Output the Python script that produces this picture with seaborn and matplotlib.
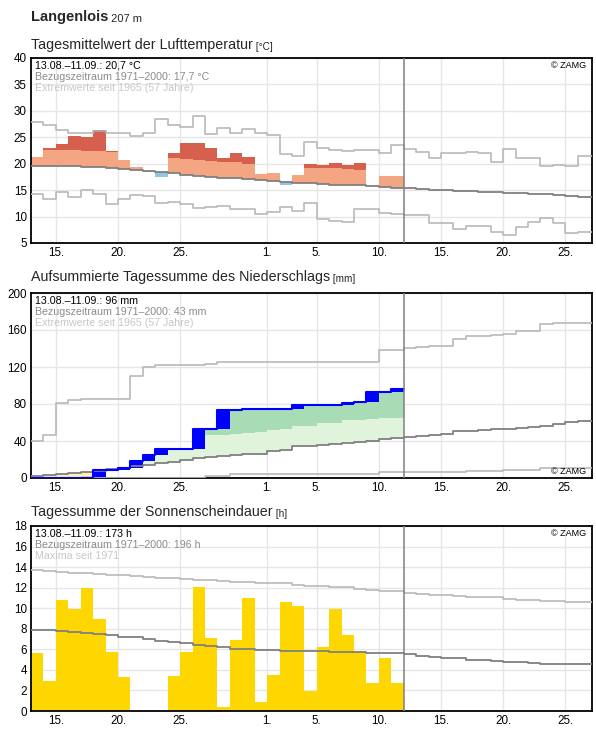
"""Klimamonitoring Langenlois: Temperatur, Niederschlag, Sonnenschein.
"""

import matplotlib
matplotlib.use("Agg")
import matplotlib.pyplot as plt
import numpy as np
import seaborn as sns

# day 0 = 13.08., observed values for 30 days, climate/extremes for 45 days
tick_pos = [2, 7, 12, 19, 23, 28, 33, 38, 43]
tick_labels = ["15.", "20.", "25.", "1.", "5.", "10.", "15.", "20.", "25."]

# --- Lufttemperatur (Tagesmittel, °C)
temp_obs = [21.3, 23.0, 23.75, 25.25, 25.06, 26.4, 22.4, 20.75, 19.44, 18.4,
            17.4, 22.06, 23.9, 23.9, 23.0, 21.1, 22.06, 21.3, 18.1, 18.3,
            15.9, 17.9, 20.0, 19.8, 20.2, 19.8, 20.2, 15.85, 17.6, 17.6]
temp_hi1 = [22.6, 22.6, 22.6, 22.6, 22.4, 22.4, 22.25, 22.1, 21.9, 21.7,
            21.5, 21.1, 20.9, 20.75, 20.6, 20.4, 20.25, 20.0, 20.0, 19.9,
            19.6, 19.4, 19.25, 19.25, 19.1, 19.06, 18.9, 18.8, 18.6, 18.5]
temp_hi2 = [26.2, 26.2, 26.1, 26.1, 26.0, 26.0, 25.9, 25.7, 25.5, 25.3,
            25.1, 24.8, 24.6, 24.4, 24.2, 24.0, 23.8, 23.6, 23.6, 23.5,
            23.2, 23.0, 22.9, 22.9, 22.7, 22.7, 22.5, 22.4, 22.2, 22.1]
temp_clim = [19.56, 19.56, 19.56, 19.56, 19.44, 19.44, 19.25, 19.06, 18.88, 18.69,
             18.5, 18.25, 17.88, 17.69, 17.5, 17.31, 17.25, 17.1, 17.0, 16.8,
             16.6, 16.4, 16.3, 16.2, 16.0, 16.0, 15.9, 15.8, 15.6, 15.45,
             15.4, 15.3, 15.1, 15.05, 14.9, 14.8, 14.65, 14.6, 14.5, 14.4,
             14.3, 14.2, 14.1, 13.95, 13.65]
temp_max = [27.8, 27.4, 26.3, 25.75, 25.75, 26.1, 25.75, 25.75, 25.2, 25.9,
            28.4, 27.25, 26.9, 29.1, 25.6, 26.7, 25.9, 26.5, 25.75, 25.4,
            21.9, 21.5, 24.2, 22.9, 22.6, 22.4, 22.6, 22.6, 22.0, 23.5,
            22.8, 22.2, 21.1, 22.1, 22.1, 22.25, 22.1, 20.4, 22.7, 21.1,
            21.1, 19.6, 19.75, 19.6, 21.4]
temp_min = [14.3, 13.4, 14.7, 13.75, 15.06, 14.3, 12.4, 13.4, 14.1, 13.9,
            12.6, 12.8, 12.4, 11.7, 11.9, 12.06, 11.4, 11.5, 10.4, 10.9,
            11.9, 11.1, 12.6, 9.6, 9.25, 8.9, 11.5, 11.5, 10.75, 10.5,
            10.3, 10.3, 8.8, 8.8, 7.7, 8.3, 8.3, 7.15, 6.5, 8.1,
            9.0, 9.8, 8.8, 6.8, 7.15]

# --- Niederschlag (aufsummiert, mm)
prec_obs = [0, 0, 0, 0, 0, 8.3, 9.0, 10.8, 18.0, 24.5,
            31.0, 31.0, 31.0, 52.5, 52.5, 73.0, 73.0, 74.8, 74.8, 74.8,
            74.8, 79.1, 79.1, 79.1, 79.1, 81.3, 82.7, 93.5, 93.5, 96.4]
prec_hi = [12, 14, 16, 18, 20, 22, 24, 26, 29, 31,
           34, 36, 39, 44, 46, 46, 47.1, 48.2, 49.3, 51.4,
           52.5, 55.8, 55.8, 59, 59, 62.2, 62.2, 63.7, 65.1, 65.1]
prec_lo = [0, 0, 1.2, 1.4, 1.8, 2.2, 2.8, 3.4, 4.0, 4.6,
           5.4, 6.0, 6.8, 7.4, 8.0, 8.6, 9.2, 9.8, 10.0, 11.5,
           12.0, 13.5, 13.5, 14.2, 14.8, 15.5, 16.0, 16.5, 17.4, 18.0]
prec_clim = [2.2, 3.2, 4.7, 5.8, 6.8, 7.9, 9.4, 10.8, 12.9, 14.0,
             16.5, 17.3, 19.8, 21.2, 22.7, 24.1, 25.2, 26.3, 26.3, 29.5,
             30.6, 34.2, 34.2, 35.6, 36.7, 38.1, 39.2, 40.3, 42.4, 43.5,
             44.2, 45.4, 46.5, 47.6, 50.5, 50.5, 51.9, 52.6, 53.0, 54.0,
             55.1, 56.2, 58.4, 60.2, 61.6]
prec_max = [40.3, 46.8, 81.3, 84.5, 85.6, 85.6, 85.6, 85.6, 110.4, 120.5,
            122.3, 122.3, 122.3, 122.3, 123.0, 125.2, 125.2, 125.2, 125.2, 125.2,
            125.2, 125.2, 125.2, 125.2, 125.2, 125.2, 125.2, 125.2, 138.5, 138.5,
            140.2, 142.0, 142.7, 142.7, 150.3, 153.9, 153.9, 154.6, 155.7, 158.6,
            159.3, 166.8, 167.6, 167.6, 167.6]
prec_min = [0, 0, 0, 0, 0, 0, 0, 0, 0, 0,
            0, 0, 0, 0, 2.2, 2.2, 4.7, 4.7, 4.7, 4.7,
            4.7, 4.7, 4.7, 4.7, 4.7, 4.7, 4.7, 4.7, 6.0, 6.0,
            6.8, 6.8, 6.8, 6.8, 6.8, 7.6, 7.6, 7.6, 9.0, 9.0,
            9.0, 10.5, 10.5, 10.5, 10.5]

# --- Sonnenscheindauer (Tagessumme, h)
sun_obs = [5.65, 2.9, 10.8, 9.9, 12.0, 9.0, 5.7, 3.26, 0, 0,
           0, 3.45, 5.7, 12.1, 7.1, 0.35, 6.9, 11.0, 0.9, 3.5,
           10.6, 10.2, 1.97, 6.2, 9.9, 7.4, 5.8, 2.74, 5.2, 2.74]
sun_clim = [7.87, 7.87, 7.8, 7.7, 7.6, 7.5, 7.4, 7.2, 7.16, 7.0,
            6.8, 6.7, 6.6, 6.4, 6.3, 6.2, 6.0, 6.0, 5.94, 5.9,
            5.8, 5.8, 5.8, 5.8, 5.77, 5.77, 5.74, 5.68, 5.65, 5.6,
            5.5, 5.4, 5.26, 5.13, 5.13, 5.0, 5.0, 4.87, 4.8, 4.74,
            4.68, 4.6, 4.6, 4.6, 4.6]
sun_max = [13.7, 13.6, 13.55, 13.45, 13.4, 13.3, 13.26, 13.2, 13.1, 13.06,
           12.97, 12.9, 12.8, 12.77, 12.7, 12.65, 12.6, 12.6, 12.5, 12.45,
           12.45, 12.3, 12.2, 12.2, 12.1, 12.1, 11.9, 11.8, 11.7, 11.65,
           11.5, 11.4, 11.3, 11.3, 11.2, 11.1, 11.06, 11.06, 10.9, 10.8,
           10.8, 10.74, 10.7, 10.65, 10.65]

W, H = 596, 729
CLIM_C = "#808080"
EXT_C = "#b9b9b9"


def ext(v):
    """Step arrays: x edges and values with the last one repeated."""
    v = np.asarray(v, dtype=float)
    return np.arange(len(v) + 1), np.append(v, v[-1])


def step_line(ax, v, color, lw):
    x, y = ext(v)
    x = x.astype(float)
    x[-1] += 0.5
    sns.lineplot(x=x, y=y, drawstyle="steps-post", color=color,
                 linewidth=lw, ax=ax, zorder=4)


def band(ax, lo, hi, color, z=2):
    x, y1 = ext(lo)
    _, y2 = ext(hi)
    ax.fill_between(x, y1, y2, step="post", color=color, linewidth=0, zorder=z)


def style(ax, ylim, yticks):
    ax.set_xlim(0, 45.15)
    ax.set_ylim(*ylim)
    ax.set_xticks(tick_pos)
    ax.set_xticklabels(tick_labels)
    ax.set_yticks(yticks)
    ax.set(xlabel="", ylabel="")
    ax.grid(True, color="#e6e6e6", linewidth=1)
    ax.tick_params(length=0, labelsize=8.4, colors="black", pad=3)
    for s in ax.spines.values():
        s.set_color("black")
        s.set_linewidth(1.3)
    ax.axvline(30, color=CLIM_C, linewidth=1.1, zorder=5)


def info(ax, lines, zamg_top=True):
    cols = ["black", "#8c8c8c", "#c8c8c8"]
    for i, (t, c) in enumerate(zip(lines, cols)):
        ax.text(4 / 561, 1 - (8 + 11 * i) / 185, t, transform=ax.transAxes,
                fontsize=7.7, color=c, va="center", ha="left", zorder=6)
    yz = 1 - 7 / 185 if zamg_top else 7 / 185
    ax.text(1 - 6 / 561, yz, "© ZAMG", transform=ax.transAxes,
            fontsize=6.5, color="black", va="center", ha="right", zorder=6)


def title(fig, ax, ypix, main, unit, size=10.3, usize=7.2, bold=False):
    t = fig.text(31 / W, 1 - ypix / H, main, fontsize=size,
                 weight="bold" if bold else "normal", va="center", ha="left")
    ax.annotate(unit, xy=(1, 0), xycoords=t, va="bottom", ha="left",
                fontsize=usize, annotation_clip=False)


sns.set_theme(style="whitegrid")
plt.rcParams["font.family"] = ["Liberation Sans", "DejaVu Sans"]

fig = plt.figure(figsize=(W / 100, H / 100), dpi=100)
left, width, height = 31 / W, 561 / W, 185 / H
ax1 = fig.add_axes([left, 1 - 243 / H, width, height])
ax2 = fig.add_axes([left, 1 - 478 / H, width, height])
ax3 = fig.add_axes([left, 1 - 711 / H, width, height])

# Temperatur
obs = np.array(temp_obs)
clim = np.array(temp_clim[:30])
hi1, hi2 = np.array(temp_hi1), np.array(temp_hi2)
band(ax1, clim, np.maximum(clim, np.minimum(obs, hi1)), "#f4a582")
band(ax1, hi1, np.maximum(hi1, np.minimum(obs, hi2)), "#d6604d")
band(ax1, hi2, np.maximum(hi2, obs), "#b2182b")
band(ax1, np.minimum(obs, clim), clim, "#92c5de")
step_line(ax1, temp_max, EXT_C, 1.2)
step_line(ax1, temp_min, EXT_C, 1.2)
step_line(ax1, temp_clim, CLIM_C, 1.3)
style(ax1, (5, 40), range(5, 41, 5))
info(ax1, ["13.08.–11.09.: 20,7 °C", "Bezugszeitraum 1971–2000: 17,7 °C",
           "Extremwerte seit 1965 (57 Jahre)"])

# Niederschlag
obs = np.array(prec_obs, dtype=float)
clim = np.array(prec_clim[:30])
hi, lo = np.array(prec_hi, dtype=float), np.array(prec_lo, dtype=float)
prev = np.append(0, obs[:-1])
low_edge = np.maximum(obs, np.minimum(lo, clim))
band(ax2, clim, np.maximum(clim, np.minimum(obs, hi)), "#e0f3db")
band(ax2, hi, np.maximum(hi, obs), "#a8dcb5")
band(ax2, np.minimum(clim, low_edge), clim, "#fff0b3")
band(ax2, obs, low_edge, "#fdcf78")
band(ax2, prev, obs, "#0000ff", z=3)
step_line(ax2, prec_max, EXT_C, 1.2)
step_line(ax2, prec_min, EXT_C, 1.2)
step_line(ax2, prec_clim, CLIM_C, 1.3)
xo, yo = ext(obs)
ax2.step(xo, yo, where="post", color="#0000ff", linewidth=1.5, zorder=4)
style(ax2, (0, 200), range(0, 201, 40))
info(ax2, ["13.08.–11.09.: 96 mm", "Bezugszeitraum 1971–2000: 43 mm",
           "Extremwerte seit 1965 (57 Jahre)"], zamg_top=False)

# Sonnenschein
ax3.bar(np.arange(len(sun_obs)), sun_obs, width=1, align="edge",
        color="#ffd700", linewidth=0, zorder=2)
step_line(ax3, sun_max, EXT_C, 1.2)
step_line(ax3, sun_clim, CLIM_C, 1.3)
style(ax3, (0, 18), range(0, 19, 2))
info(ax3, ["13.08.–11.09.: 173 h", "Bezugszeitraum 1971–2000: 196 h",
           "Maxima seit 1971"])

for ax in (ax1, ax2, ax3):
    if ax.get_legend() is not None:
        ax.get_legend().remove()

title(fig, ax1, 17, "Langenlois", " 207 m", size=10.5, usize=8, bold=True)
title(fig, ax1, 45, "Tagesmittelwert der Lufttemperatur", " [°C]")
title(fig, ax2, 277, "Aufsummierte Tagessumme des Niederschlags", " [mm]")
title(fig, ax3, 512, "Tagessumme der Sonnenscheindauer", " [h]")

fig.savefig("out.png", dpi=100)
